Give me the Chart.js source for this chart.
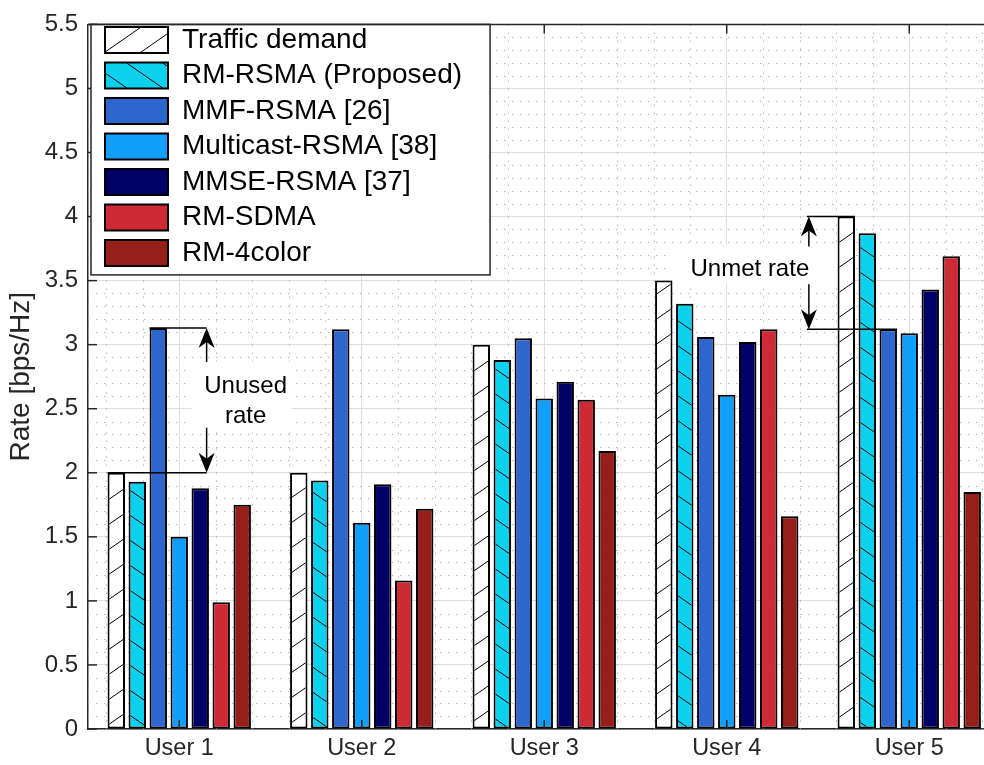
<!DOCTYPE html>
<html>
<head>
<meta charset="utf-8">
<script src="https://cdn.jsdelivr.net/npm/chart.js@4.4.1/dist/chart.umd.min.js"></script>
<style>
html, body { margin: 0; padding: 0; background: #fff; overflow: hidden; }
#wrap { width: 1002px; height: 765px; }
</style>
</head>
<body>
<div id="wrap"><canvas id="rate-chart" width="1002" height="765"></canvas></div>
<script>
const categories = ['User 1', 'User 2', 'User 3', 'User 4', 'User 5'];
const trafficDemand = [2.0, 2.0, 3.0, 3.5, 4.0];
const rmRsma = [1.93, 1.94, 2.88, 3.32, 3.87];
const mmfRsma = [3.13, 3.12, 3.05, 3.06, 3.12];
const multicastRsma = [1.50, 1.61, 2.58, 2.61, 3.09];
const mmseRsma = [1.88, 1.91, 2.71, 3.02, 3.43];
const rmSdma = [0.99, 1.16, 2.57, 3.12, 3.69];
const rm4color = [1.75, 1.72, 2.17, 1.66, 1.85];
const yTicks = [0, 0.5, 1, 1.5, 2, 2.5, 3, 3.5, 4, 4.5, 5, 5.5];
const yTickLabels = ['0', '0.5', '1', '1.5', '2', '2.5', '3', '3.5', '4', '4.5', '5', '5.5'];

const FONT = "'Liberation Sans', Arial, Helvetica, sans-serif";
const AXIS = '#262626';
Chart.defaults.font.family = FONT;

const canvas = document.getElementById('rate-chart');
const ctx = canvas.getContext('2d');

// hatch fill like matlab hatchfill
function hatch(bg, dir) {
    const w = 36, h = 25;
    const tile = document.createElement('canvas');
    tile.width = w; tile.height = h;
    const g = tile.getContext('2d');
    g.fillStyle = bg;
    g.fillRect(0, 0, w, h);
    g.strokeStyle = '#000';
    g.lineWidth = 1;
    for (let k = -1; k <= 1; k++) {
        g.beginPath();
        if (dir === '/') { g.moveTo(0, h + k * h); g.lineTo(w, k * h); }
        else { g.moveTo(0, k * h); g.lineTo(w, h + k * h); }
        g.stroke();
    }
    return ctx.createPattern(tile, 'repeat');
}

const series = [
    { label: 'Traffic demand', data: trafficDemand, color: hatch('#ffffff', '/') },
    { label: 'RM-RSMA (Proposed)', data: rmRsma, color: hatch('#0bd0ee', '\\') },
    { label: 'MMF-RSMA [26]', data: mmfRsma, color: '#2d67cd' },
    { label: 'Multicast-RSMA [38]', data: multicastRsma, color: '#129ffc' },
    { label: 'MMSE-RSMA [37]', data: mmseRsma, color: '#010066' },
    { label: 'RM-SDMA', data: rmSdma, color: '#cf2b36' },
    { label: 'RM-4color', data: rm4color, color: '#971f1a' }
];

function line(c, x1, y1, x2, y2) {
    c.beginPath(); c.moveTo(x1, y1); c.lineTo(x2, y2); c.stroke();
}

function arrowHead(c, x, tipY, dir) {
    c.beginPath();
    c.moveTo(x, tipY);
    c.lineTo(x - 8, tipY - dir * 20);
    c.lineTo(x, tipY - dir * 14);
    c.lineTo(x + 8, tipY - dir * 20);
    c.closePath();
    c.fill();
}

const decorations = {
    id: 'decorations',
    afterLayout(chart) {
        const lg = chart.legend, ca = chart.chartArea;
        lg.left = ca.left + 9.5;
        lg.top = ca.top - 6;
        lg.right = lg.left + lg.width;
        lg.bottom = lg.top + lg.height;
    },
    beforeDatasetsDraw(chart) {
        const c = chart.ctx, ca = chart.chartArea;
        const xs = chart.scales.x, ys = chart.scales.y;
        c.save();
        // minor dotted grid
        c.strokeStyle = '#b8b8b8';
        c.lineWidth = 1;
        c.setLineDash([1.5, 6.5]);
        for (let k = 1; k < 55; k++) {
            if (k % 5 === 0) continue;
            const y = Math.round(ys.getPixelForValue(k / 10)) + 0.5;
            line(c, ca.left, y, ca.right, y);
        }
        categories.forEach((_, i) => {
            [-2, -1, 1, 2].forEach(k => {
                const x = Math.round(xs.getPixelForValue(i + k * 0.2)) + 0.5;
                line(c, x, ca.top, x, ca.bottom);
            });
        });
        c.setLineDash([]);
        // inner ticks: left and top
        c.strokeStyle = AXIS;
        c.lineWidth = 1.5;
        yTicks.forEach(v => {
            const y = ys.getPixelForValue(v);
            line(c, ca.left, y, ca.left + 9, y);
        });
        categories.forEach((_, i) => {
            const x = xs.getPixelForValue(i);
            line(c, x, ca.top, x, ca.top + 9);
        });
        // white boxes behind annotation text
        c.fillStyle = '#fff';
        const ax = xs.getPixelForValue(0.15);
        const mid = (ys.getPixelForValue(mmfRsma[0]) + ys.getPixelForValue(trafficDemand[0])) / 2;
        c.fillRect(ax - 15, mid - 39, 100, 68);
        const ax2 = xs.getPixelForValue(3.45);
        const mid2 = (ys.getPixelForValue(trafficDemand[4]) + ys.getPixelForValue(mmfRsma[4])) / 2;
        c.fillRect(ax2 - 137, mid2 - 29, 168, 40);
        // legend frame, then legend on top
        const hb = chart.legend.legendHitBoxes;
        const right = Math.max(...hb.map(b => b.left + b.width)) + 28;
        const last = hb[hb.length - 1];
        const bottom = last.top + last.height + 8;
        const left = ca.left + 3;
        c.fillRect(left, ca.top, right - left, bottom - ca.top);
        c.strokeStyle = AXIS;
        c.lineWidth = 1.5;
        c.strokeRect(left, ca.top, right - left, bottom - ca.top);
        c.restore();
        chart.legend.draw();
    },
    afterDatasetsDraw(chart) {
        const c = chart.ctx, ca = chart.chartArea;
        const xs = chart.scales.x, ys = chart.scales.y;
        c.save();
        c.strokeStyle = AXIS;
        c.lineWidth = 1.5;
        categories.forEach((_, i) => {
            const x = xs.getPixelForValue(i);
            line(c, x, ca.bottom, x, ca.bottom - 9);
        });
        line(c, ca.left, ca.top, ca.right, ca.top);

        const td = chart.getDatasetMeta(0).data;
        const mmf = chart.getDatasetMeta(2).data;
        c.strokeStyle = '#000';
        c.fillStyle = '#000';
        c.lineWidth = 1.5;
        c.font = '24px ' + FONT;
        c.textAlign = 'center';
        c.textBaseline = 'middle';

        // unused rate (user 1)
        const ax = xs.getPixelForValue(0.15);
        const yTop = ys.getPixelForValue(mmfRsma[0]);
        const yBot = ys.getPixelForValue(trafficDemand[0]);
        line(c, mmf[0].x - mmf[0].width / 2, yTop, ax, yTop);
        line(c, td[0].x - td[0].width / 2, yBot, ax, yBot);
        line(c, ax, yTop + 4, ax, yTop + 34);
        arrowHead(c, ax, yTop, -1);
        line(c, ax, yBot - 45, ax, yBot - 4);
        arrowHead(c, ax, yBot, 1);
        const mid = (yTop + yBot) / 2;
        c.fillText('Unused', ax + 39, mid - 14);
        c.fillText('rate', ax + 39, mid + 16);

        // unmet rate (user 5)
        const ax2 = xs.getPixelForValue(3.45);
        const yTop2 = ys.getPixelForValue(trafficDemand[4]);
        const yBot2 = ys.getPixelForValue(mmfRsma[4]);
        line(c, ax2 - 2, yTop2, td[4].x + td[4].width / 2, yTop2);
        line(c, ax2 - 2, yBot2, mmf[4].x + mmf[4].width / 2, yBot2);
        line(c, ax2, yTop2 + 4, ax2, yTop2 + 30);
        arrowHead(c, ax2, yTop2, -1);
        line(c, ax2, yBot2 - 45, ax2, yBot2 - 4);
        arrowHead(c, ax2, yBot2, 1);
        const mid2 = (yTop2 + yBot2) / 2;
        c.fillText('Unmet rate', ax2 - 59, mid2 - 4);
        c.restore();
    }
};

new Chart(ctx, {
    type: 'bar',
    data: {
        labels: categories,
        datasets: series.map(s => ({
            label: s.label,
            data: s.data,
            backgroundColor: s.color,
            borderColor: '#000',
            borderWidth: 2,
            borderSkipped: false,
            categoryPercentage: 0.805,
            barPercentage: 0.83
        }))
    },
    options: {
        responsive: false,
        animation: false,
        layout: { padding: { top: 14, right: 1.5, left: 0, bottom: 0 } },
        plugins: {
            tooltip: { enabled: false },
            legend: {
                position: 'chartArea',
                align: 'start',
                labels: {
                    boxWidth: 63,
                    boxHeight: 26,
                    padding: 7.5,
                    color: '#000',
                    font: { size: 28, family: FONT }
                }
            }
        },
        scales: {
            x: {
                grid: { offset: false, color: '#dedede', lineWidth: 1, drawTicks: false },
                border: { color: AXIS, width: 1.5 },
                ticks: { color: AXIS, font: { size: 23.5 }, padding: 5, maxRotation: 0 },
                afterFit: s => { s.height = 36; }
            },
            y: {
                min: 0,
                max: 5.5,
                grid: { color: '#dedede', lineWidth: 1, drawTicks: false },
                border: { color: AXIS, width: 1.5 },
                ticks: {
                    color: AXIS,
                    font: { size: 24 },
                    padding: 10,
                    callback: v => yTickLabels[yTicks.indexOf(v)]
                },
                afterBuildTicks: s => { s.ticks = yTicks.map(v => ({ value: v })); },
                title: {
                    display: true,
                    text: 'Rate [bps/Hz]',
                    color: AXIS,
                    font: { size: 28 },
                    padding: { top: 4, bottom: 0 }
                },
                afterFit: s => { s.width = 88; }
            }
        }
    },
    plugins: [decorations]
});
</script>
</body>
</html>
